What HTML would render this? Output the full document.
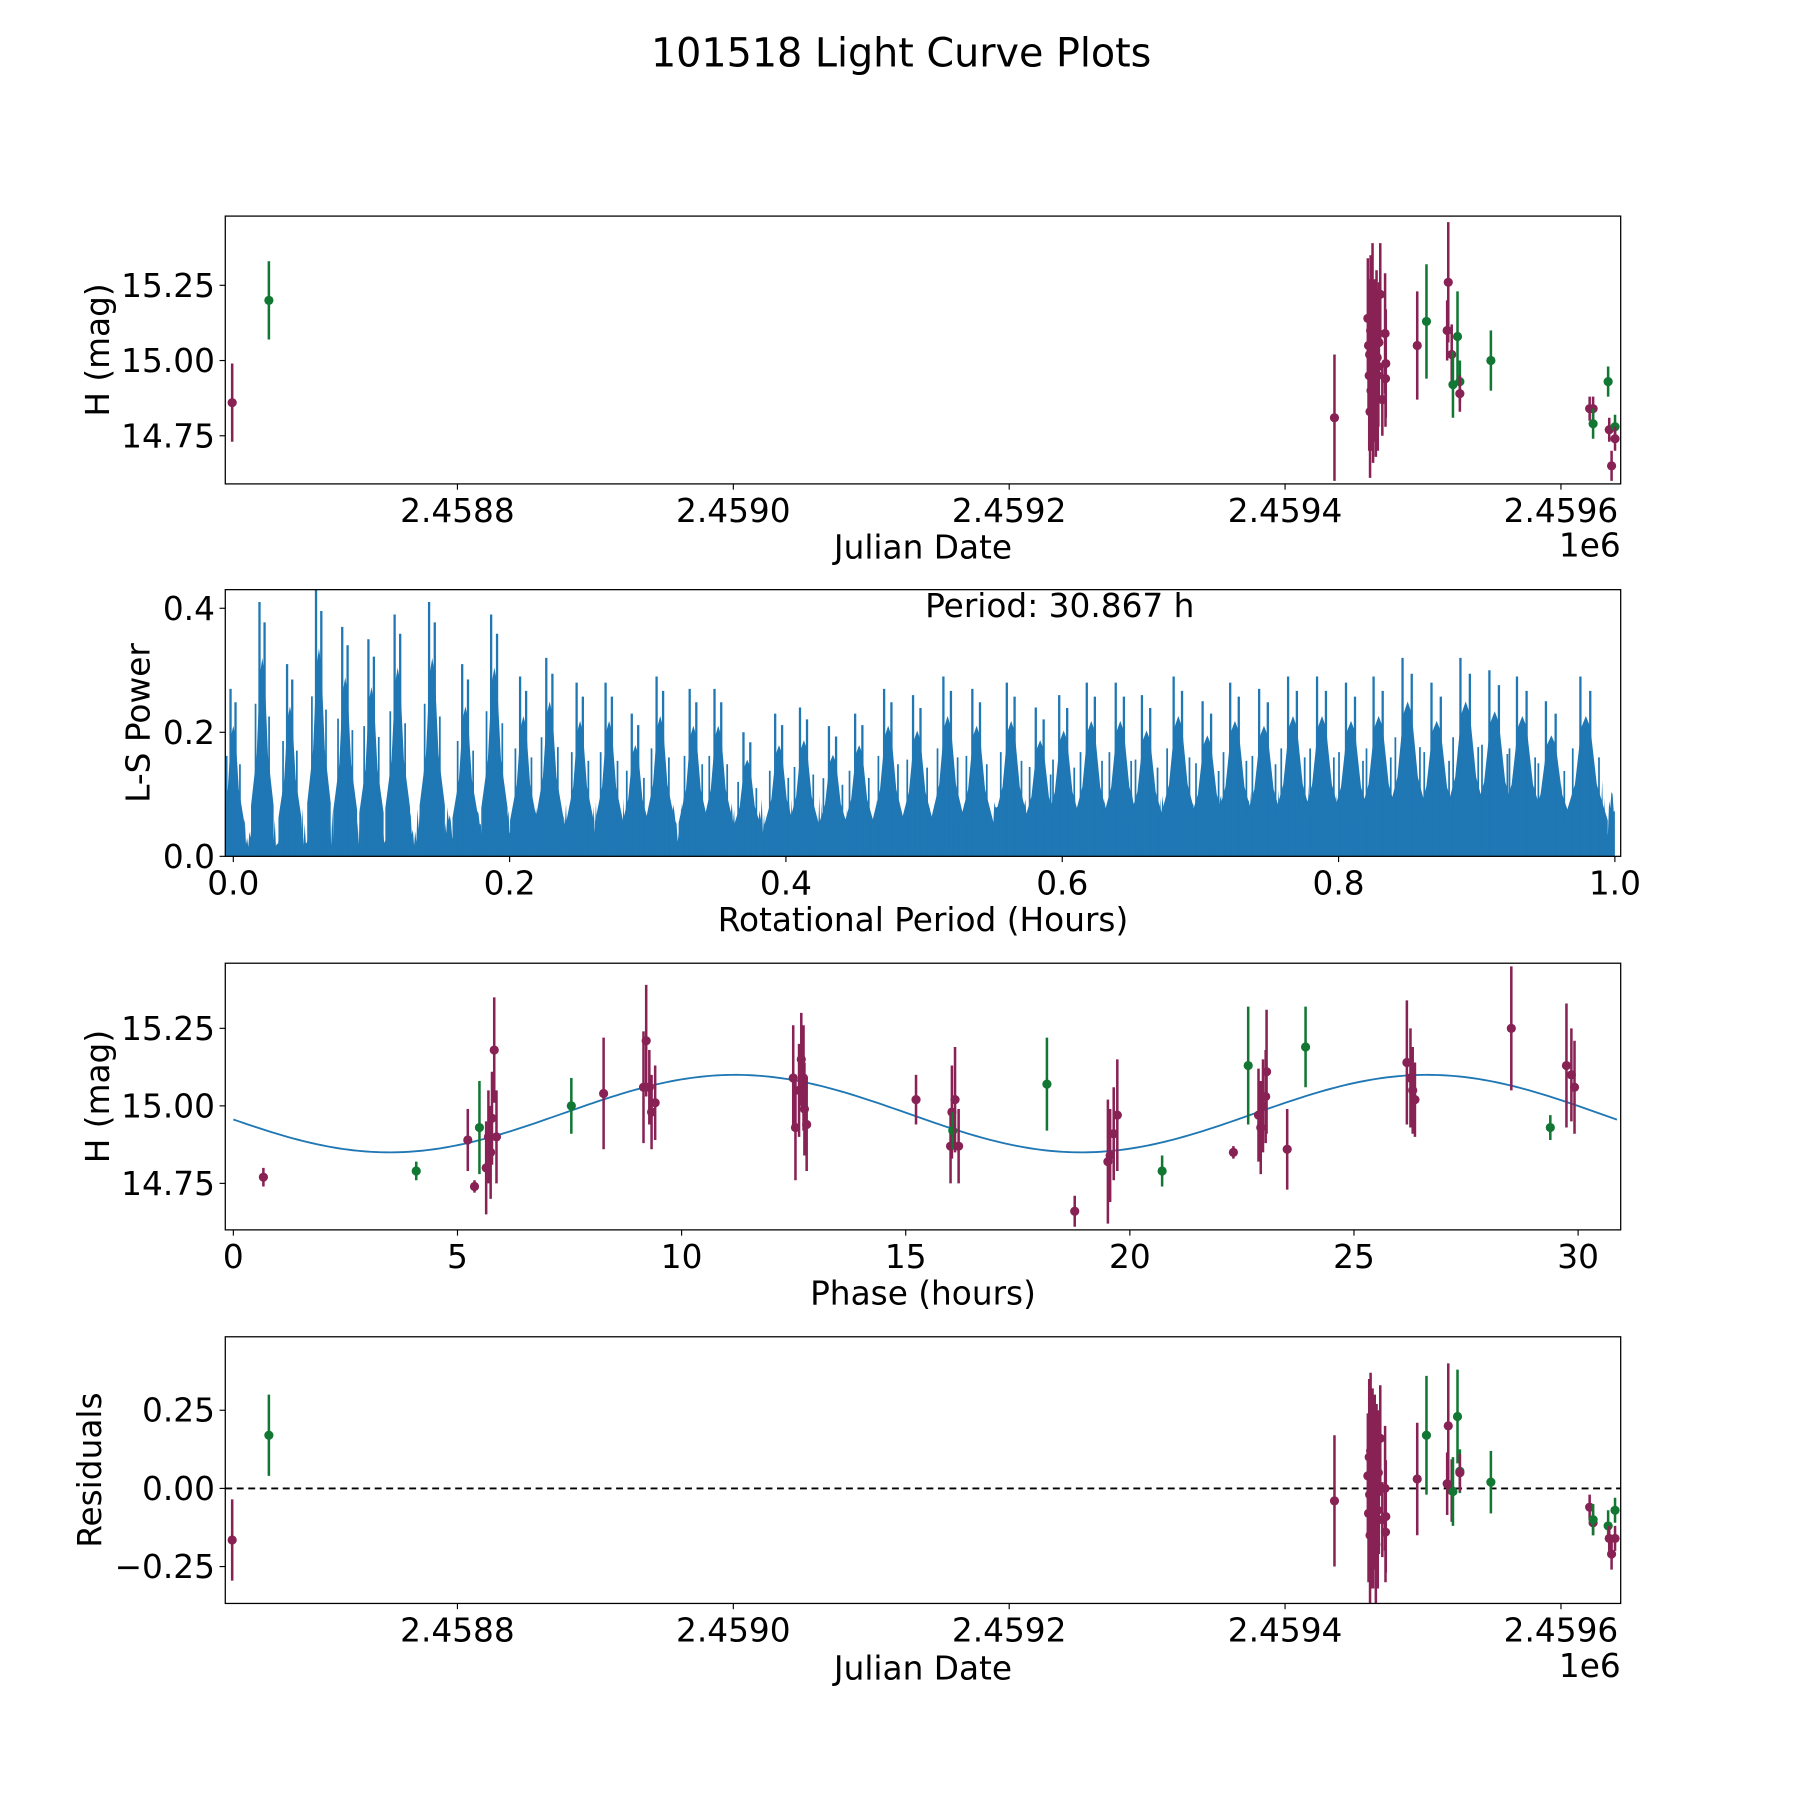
<!DOCTYPE html>
<html><head><meta charset="utf-8"><style>
html,body{margin:0;padding:0;background:#fff;}
svg{display:block;font-family:"DejaVu Sans","Liberation Sans",sans-serif;}
</style></head><body>
<svg id="fig" width="1800" height="1800" viewBox="0 0 1566 1566" xmlns="http://www.w3.org/2000/svg">
<rect width="1566" height="1566" fill="#fff"/>
<text x="784" y="58" font-size="34.5" text-anchor="middle">101518 Light Curve Plots</text>
</svg>
<script>
// ---------- Panel 1: light curve vs Julian date ----------
const lcJD = [2458636.7,2458663.3,2459435.8,
2459460,2459460.5,2459461,2459461.3,2459461.6,2459462,2459462.3,2459462.7,2459463,2459463.4,2459463.8,2459464.2,2459464.5,2459465,2459465.4,2459465.8,2459466.3,2459466.8,2459467.2,2459467.6,2459468,2459469,2459470.5,2459472.5,2459472.8,2459473,
2459495.8,2459502.5,2459517.5,2459518.3,2459520.8,2459521.7,2459525,2459526.7,2459526.7,2459549.2,2459620.8,2459623.3,2459623.3,2459634.2,2459635,2459636.7,2459639.2,2459639.2];
const lcMag = [14.86,15.20,14.81,
15.14,15.05,14.95,15.02,14.83,15.10,14.90,15.08,14.99,15.22,14.86,15.00,14.93,15.05,14.97,14.88,15.12,15.01,14.95,14.98,15.06,15.22,14.87,15.09,14.94,14.99,
15.05,15.13,15.10,15.26,15.02,14.92,15.08,14.93,14.89,15.00,14.84,14.84,14.79,14.93,14.77,14.65,14.78,14.74];
const lcErr = [0.13,0.13,0.21,
0.2,0.22,0.25,0.2,0.22,0.25,0.2,0.22,0.18,0.17,0.2,0.25,0.2,0.22,0.23,0.2,0.18,0.2,0.25,0.2,0.2,0.17,0.12,0.2,0.16,0.18,
0.18,0.19,0.1,0.2,0.1,0.11,0.15,0.07,0.06,0.1,0.04,0.04,0.05,0.05,0.04,0.05,0.04,0.04];
const lcCol = ["p","g","p",
"p","p","p","p","p","p","p","p","p","p","p","p","p","p","p","p","p","p","p","p","p","p","p","p","p","p",
"p","g","p","p","p","g","g","g","p","g","p","p","g","g","p","p","g","p"];

// ---------- Panel 2: Lomb-Scargle periodogram (peak envelope) ----------
const lsPeakPeriod = [0.0,0.021,0.041,0.062,0.081,0.100,0.119,0.144,0.168,0.189,0.210,0.229,0.251,0.272,0.291,0.309,0.333,0.351,0.372,0.395,0.413,0.434,0.453,0.474,0.495,0.517,0.538,0.563,0.584,0.601,0.621,0.642,0.661,0.684,0.705,0.725,0.746,0.767,0.788,0.809,0.829,0.850,0.871,0.892,0.913,0.933,0.954,0.979];
const lsPeakPower = [0.27,0.41,0.31,0.43,0.37,0.35,0.39,0.41,0.31,0.39,0.29,0.32,0.28,0.28,0.23,0.29,0.27,0.27,0.20,0.23,0.24,0.21,0.23,0.27,0.26,0.29,0.27,0.28,0.24,0.26,0.28,0.28,0.26,0.29,0.25,0.28,0.27,0.29,0.29,0.28,0.29,0.32,0.28,0.32,0.30,0.29,0.25,0.29];
const lsNoiseLevel = [0.07,0.08,0.08,0.09,0.09,0.09,0.10,0.10,0.10,0.10,0.11,0.11,0.11,0.11,0.12,0.12,0.12,0.12,0.12,0.12,0.13];
const bestPeriod = "30.867";

// ---------- Panel 3: phase-folded ----------
const phPhase = [0.67,4.08,5.23,5.38,5.49,5.64,5.69,5.74,5.77,5.82,5.87,7.54,8.26,9.15,9.21,9.28,9.33,9.41,12.49,12.54,12.62,12.67,12.72,12.74,12.79,15.23,16.0,16.03,16.05,16.10,16.18,18.15,18.77,19.51,19.56,19.64,19.72,20.72,22.31,22.64,22.87,22.92,22.97,23.03,23.05,23.51,23.92,26.18,26.26,26.31,26.36,28.51,29.38,29.74,29.85,29.92];
const phMag = [14.77,14.79,14.89,14.74,14.93,14.80,14.90,14.85,14.96,15.18,14.90,15.00,15.04,15.06,15.21,15.06,14.98,15.01,15.09,14.93,15.05,15.15,15.09,14.99,14.94,15.02,14.87,14.98,14.92,15.02,14.87,15.07,14.66,14.82,14.84,14.91,14.97,14.79,14.85,15.13,14.97,14.93,15.00,15.03,15.11,14.86,15.19,15.14,15.09,15.05,15.02,15.25,14.93,15.13,15.10,15.06];
const phErr = [0.03,0.03,0.1,0.02,0.15,0.15,0.15,0.15,0.15,0.17,0.15,0.09,0.18,0.18,0.18,0.12,0.12,0.12,0.17,0.17,0.15,0.15,0.17,0.15,0.15,0.08,0.12,0.15,0.06,0.17,0.12,0.15,0.05,0.2,0.15,0.15,0.18,0.05,0.02,0.19,0.15,0.15,0.15,0.15,0.2,0.13,0.13,0.2,0.16,0.14,0.12,0.2,0.04,0.2,0.15,0.15];
const phCol = ["p","g","p","p","g","p","p","p","p","p","p","g","p","p","p","p","p","p","p","p","p","p","p","p","p","p","p","p","g","p","p","g","p","p","p","p","p","g","p","g","p","p","p","p","p","p","g","p","p","p","p","p","g","p","p","p"];
const modelMean = 14.975, modelAmp = 0.125, modelPeak = 11.2, modelPeriod = 15.43;

// ---------- Panel 4: residuals ----------
const rsJD = [2458636.7,2458663.3,2459435.8,
2459460,2459460.5,2459461,2459461.3,2459461.6,2459462,2459462.3,2459462.7,2459463,2459463.4,2459463.8,2459464.2,2459464.5,2459465,2459465.4,2459465.8,2459466.3,2459466.8,2459467.2,2459467.6,2459468,2459469,2459470.5,2459472.5,2459472.8,2459473,
2459495.8,2459502.5,2459517.5,2459518.3,2459520.8,2459521.7,2459525,2459526.7,2459526.7,2459549.2,2459620.8,2459623.3,2459623.3,2459634.2,2459635,2459636.7,2459639.2,2459639.2];
const rsVal = [-0.165,0.17,-0.04,
0.04,-0.08,0.10,-0.02,-0.15,0.12,0.0,-0.10,0.06,0.15,-0.12,0.03,-0.05,0.08,-0.03,-0.18,0.09,0.01,-0.07,0.05,-0.01,0.16,-0.10,0.0,-0.14,-0.09,
0.03,0.17,0.015,0.2,-0.007,-0.01,0.23,0.055,0.05,0.02,-0.06,-0.11,-0.10,-0.12,-0.16,-0.21,-0.07,-0.16];
const rsErr = lcErr;
const rsCol = lcCol;

const JD_TICKS = [2458800,2459000,2459200,2459400,2459600];
const JD_LABELS = ["2.4588","2.4590","2.4592","2.4594","2.4596"];

const NS = "http://www.w3.org/2000/svg";
const svg = document.getElementById('fig');
const COL = {p:"#882255", g:"#117733"};
const FS = 28.5;
function mk(tag, attrs, parent){
  const e = document.createElementNS(NS, tag);
  for (const k in attrs) e.setAttribute(k, attrs[k]);
  (parent||svg).appendChild(e);
  return e;
}
const L = 196, R = 1410;
function scale(d0,d1,r0,r1){ return v => r0 + (v-d0)/(d1-d0)*(r1-r0); }

function panel(name, top, bot, xd, yd){
  const g = mk('g', {});
  
  
  return {g, top, bot, x: scale(xd[0],xd[1],L,R), y: scale(yd[0],yd[1],bot,top)};
}
function frame(P){
  const r = mk('rect', {x:L, y:P.top, width:R-L, height:P.bot-P.top, fill:'none', stroke:'#000', 'stroke-width':1.1}, P.g);
  
  
}
function xticks(P, vals, labels){
  vals.forEach((v,i)=>{
    const X = P.x(v);
    mk('line', {x1:X, x2:X, y1:P.bot, y2:P.bot+5, stroke:'#000', 'stroke-width':1}, P.g);
    const t = mk('text', {x:X, y:P.bot+33, 'font-size':FS, 'text-anchor':'middle'}, P.g);
    t.textContent = labels[i];
    
    
  });
}
function yticks(P, vals, labels){
  vals.forEach((v,i)=>{
    const Y = P.y(v);
    mk('line', {x1:L-5, x2:L, y1:Y, y2:Y, stroke:'#000', 'stroke-width':1}, P.g);
    const t = mk('text', {x:L-9, y:Y+10, 'font-size':FS, 'text-anchor':'end'}, P.g);
    t.textContent = labels[i];
    
    
  });
}
function xlabel(P, txt, y){
  const t = mk('text', {x:803, y:y, 'font-size':FS, 'text-anchor':'middle'}, P.g);
  t.textContent = txt;
  
  
}
function ylabel(P, txt, x){
  const cy = (P.top+P.bot)/2;
  const t = mk('text', {x:x, y:cy, 'font-size':FS, 'text-anchor':'middle', transform:`rotate(-90 ${x} ${cy})`}, P.g);
  t.textContent = txt;
  
  
}
function clip(P, id){
  const cp = mk('clipPath', {id:id});
  mk('rect', {x:L, y:P.top, width:R-L, height:P.bot-P.top}, cp);
  return mk('g', {'clip-path':`url(#${id})`}, P.g);
}
function errpoints(P, cg, xs, ys, es, cs){
  xs.forEach((xv,i)=>{
    const X = P.x(xv), c = COL[cs[i]];
    const l = mk('line', {x1:X, x2:X, y1:P.y(ys[i]-es[i]), y2:P.y(ys[i]+es[i]), stroke:c, 'stroke-width':2.2}, cg);
    
    
    const d = mk('circle', {cx:X, cy:P.y(ys[i]), r:4, fill:c}, cg);
    
    
  });
}

// Panel 1
const P1 = panel('light-curve-panel', 188, 421, [2458631.7,2459643.3], [14.59,15.48]);
const c1 = clip(P1, 'c1');
errpoints(P1, c1, lcJD, lcMag, lcErr, lcCol);
frame(P1);
xticks(P1, JD_TICKS, JD_LABELS);
yticks(P1, [14.75,15.0,15.25], ["14.75","15.00","15.25"]);
xlabel(P1, "Julian Date", 486);
ylabel(P1, "H (mag)", 95);
{ const t = mk('text', {x:1410, y:484, 'font-size':FS, 'text-anchor':'end'}, P1.g); t.textContent = "1e6";

 }

// Panel 2
const P2 = panel('periodogram-panel', 513, 745, [-0.0058,1.0042], [0,0.43]);
const c2 = clip(P2, 'c2');
{
  let pts = [`${P2.x(0)},${P2.y(0)}`];
  const n = lsNoiseLevel.length;
  for (let k=0; k<=1200; k++){
    const f = k/1200, idx = f*(n-1), i0 = Math.floor(idx), i1 = Math.min(n-1,i0+1);
    const lvl = lsNoiseLevel[i0] + (lsNoiseLevel[i1]-lsNoiseLevel[i0])*(idx-i0);
    const jag = 0.2 + 0.8*Math.abs(Math.sin(k*1.7)*Math.cos(k*0.37));
    pts.push(`${P2.x(f)},${P2.y(lvl*jag)}`);
  }
  pts.push(`${P2.x(1)},${P2.y(0)}`);
  const band = mk('polygon', {points:pts.join(' '), fill:'#1f77b4'}, c2);
  
  
  lsPeakPeriod.forEach((p,i)=>{
    const h = lsPeakPower[i];
    const w = 0.008 + 0.008*p;
    const X = P2.x(p), W = P2.x(p+w)-P2.x(p);
    const sp = mk('g', {}, c2);
    
    
    mk('polygon', {points:`${X-W},${P2.y(0)} ${X-W},${P2.y(h*0.2)} ${X-W*0.5},${P2.y(h*0.4)} ${X-W*0.2},${P2.y(h*0.72)} ${X},${P2.y(h*0.78)} ${X+W*0.2},${P2.y(h*0.72)} ${X+W*0.5},${P2.y(h*0.4)} ${X+W},${P2.y(h*0.2)} ${X+W},${P2.y(0)}`, fill:'#1f77b4'}, sp);
    mk('line', {x1:X-W*0.25, x2:X-W*0.25, y1:P2.y(0), y2:P2.y(h), stroke:'#1f77b4', 'stroke-width':2}, sp);
    mk('line', {x1:X+W*0.2, x2:X+W*0.2, y1:P2.y(0), y2:P2.y(h*0.92), stroke:'#1f77b4', 'stroke-width':2}, sp);
    mk('line', {x1:X-W*0.6, x2:X-W*0.6, y1:P2.y(0), y2:P2.y(h*0.6), stroke:'#1f77b4', 'stroke-width':1.5}, sp);
    mk('line', {x1:X+W*0.6, x2:X+W*0.6, y1:P2.y(0), y2:P2.y(h*0.55), stroke:'#1f77b4', 'stroke-width':1.5}, sp);
  });
}
frame(P2);
xticks(P2, [0,0.2,0.4,0.6,0.8,1.0], ["0.0","0.2","0.4","0.6","0.8","1.0"]);
yticks(P2, [0,0.2,0.4], ["0.0","0.2","0.4"]);
xlabel(P2, "Rotational Period (Hours)", 810);
ylabel(P2, "L-S Power", 130);
{ const t = mk('text', {x:922, y:537, 'font-size':FS, 'text-anchor':'middle'}, P2.g); t.textContent = "Period: " + bestPeriod + " h";

 }

// Panel 3
const P3 = panel('phase-folded-panel', 838, 1070, [-0.18,30.95], [14.60,15.46]);
const c3 = clip(P3, 'c3');
{
  let pts = [];
  for (let k=0; k<=300; k++){
    const ph = k/300*30.867;
    const m = modelMean + modelAmp*Math.cos(2*Math.PI*(ph-modelPeak)/modelPeriod);
    pts.push(`${P3.x(ph)},${P3.y(m)}`);
  }
  const ml = mk('polyline', {points:pts.join(' '), fill:'none', stroke:'#1f77b4', 'stroke-width':1.6}, c3);
  
  
}
errpoints(P3, c3, phPhase, phMag, phErr, phCol);
frame(P3);
xticks(P3, [0,5,10,15,20,25,30], ["0","5","10","15","20","25","30"]);
yticks(P3, [14.75,15.0,15.25], ["14.75","15.00","15.25"]);
xlabel(P3, "Phase (hours)", 1135);
ylabel(P3, "H (mag)", 95);

// Panel 4
const P4 = panel('residuals-panel', 1163, 1395, [2458631.7,2459643.3], [-0.368,0.485]);
const c4 = clip(P4, 'c4');
{ const zl = mk('line', {x1:L, x2:R, y1:P4.y(0), y2:P4.y(0), stroke:'#000', 'stroke-width':1.6, 'stroke-dasharray':'6,4'}, c4);

 }
errpoints(P4, c4, rsJD, rsVal, rsErr, rsCol);
frame(P4);
xticks(P4, JD_TICKS, JD_LABELS);
yticks(P4, [-0.25,0,0.25], ["\u22120.25","0.00","0.25"]);
xlabel(P4, "Julian Date", 1461);
ylabel(P4, "Residuals", 88);
{ const t = mk('text', {x:1410, y:1459, 'font-size':FS, 'text-anchor':'end'}, P4.g); t.textContent = "1e6";

 }
</script>
</body></html>
